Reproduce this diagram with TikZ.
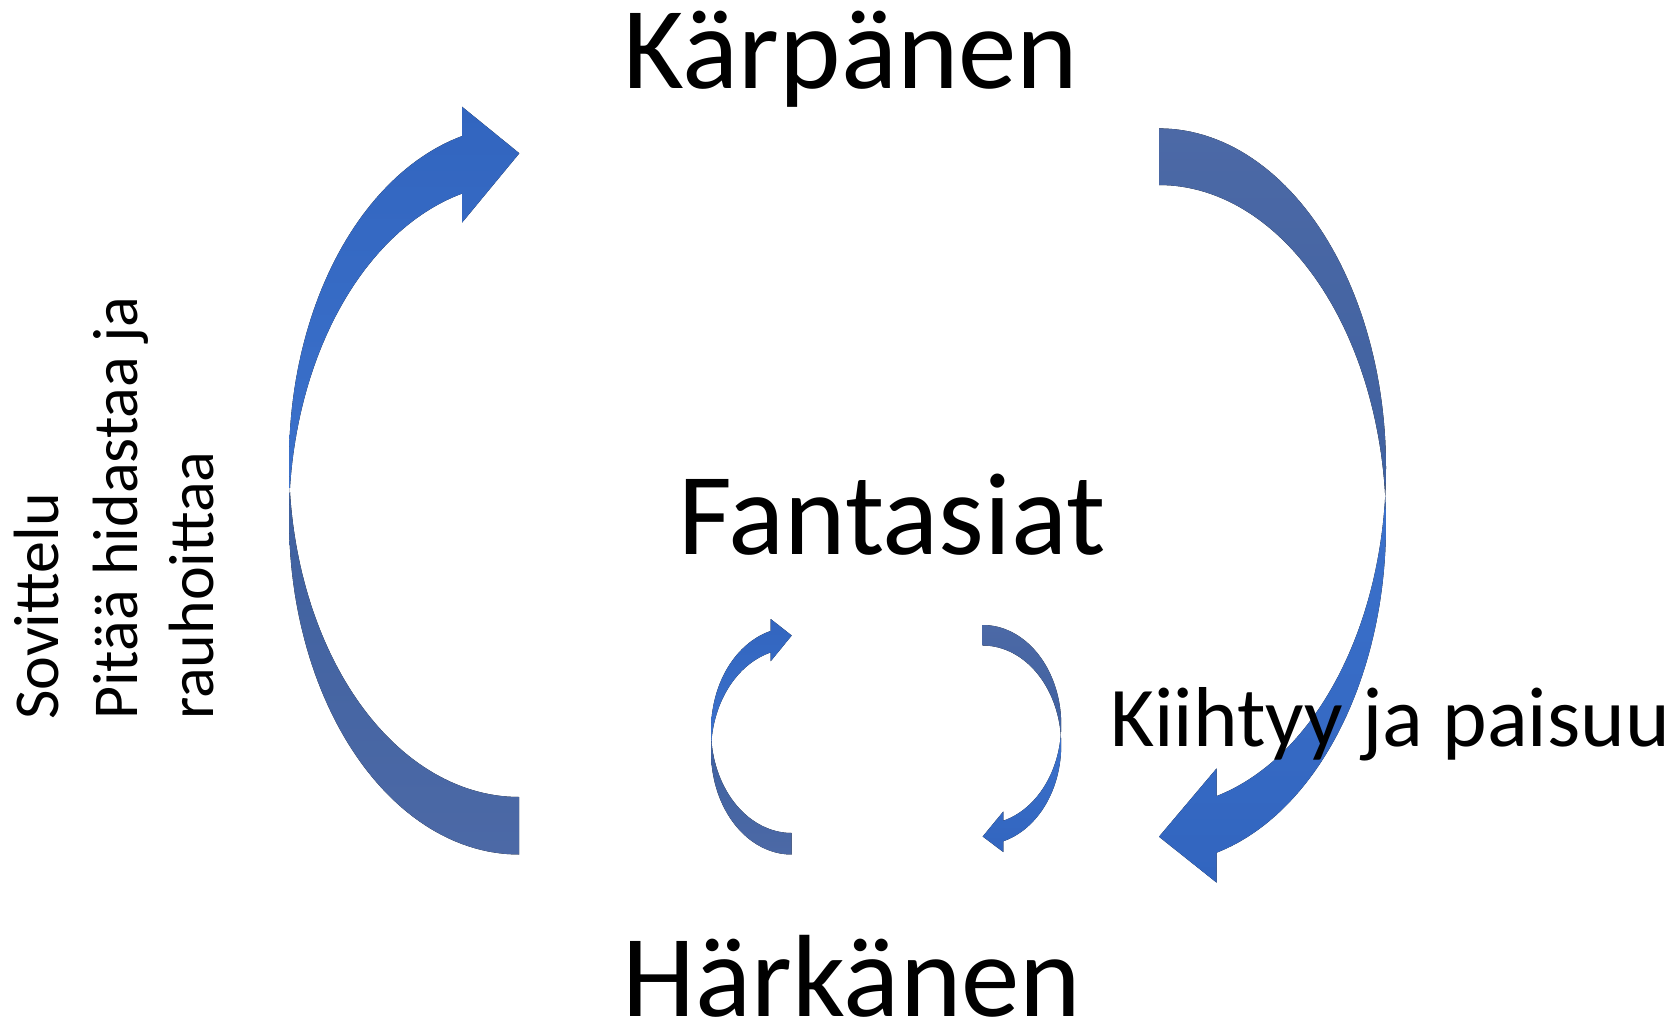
\documentclass[tikz,border=0pt]{standalone}
\usepackage{fontspec}
\setmainfont{Carlito}
\definecolor{brA}{RGB}{50,101,191}
\definecolor{brB}{RGB}{59,113,203}
\definecolor{grD}{RGB}{63,97,160}
\definecolor{grL}{RGB}{76,105,166}
\tikzset{
  lbl/.style={inner sep=0pt, text=black},
  huge/.style={lbl, font=\fontsize{117}{140}\selectfont},
  mid/.style={lbl, font=\fontsize{85}{102}\selectfont},
  side/.style={lbl, font=\fontsize{64}{77}\selectfont, rotate=90, anchor=base west},
  headpart/.style={draw=none, top color=brA, bottom color=brB},
  headpartup/.style={draw=none, top color=brB, bottom color=brA},
  tailpart/.style={draw=none, top color=grD, bottom color=grL},
  tailpartup/.style={draw=none, top color=grL, bottom color=grD},
}
\begin{document}
\begin{tikzpicture}[x=1pt,y=-1pt]
\fill[white] (0,0) rectangle (1678,1019);
\useasboundingbox (0,0) rectangle (1678,1019);

% ---------- big left arrow (up, pointing right) ----------
\fill[headpart] (462,136.1)
  -- plot[domain=255.65:175.09, samples=60] ({519+230*cos(\x)}, {461.3+335.7*sin(\x)})
  -- plot[domain=184.91:255.65, samples=60] ({519+230*cos(\x)}, {518.8+335.7*sin(\x)})
  -- (462,222.7) -- (519.3,153.3) -- (462,106.7) -- cycle;
\fill[tailpart]
  plot[domain=184.91:90, samples=60] ({519+230*cos(\x)}, {518.8+335.7*sin(\x)})
  -- plot[domain=90:175.09, samples=60] ({519+230*cos(\x)}, {461.3+335.7*sin(\x)})
  -- cycle;

% ---------- big right arrow (down, pointing left) ----------
\fill[tailpartup]
  plot[domain=270:364.783, samples=60] ({1159+227*cos(\x)}, {467.8+339.4*sin(\x)})
  -- plot[domain=-4.783:-90, samples=60] ({1159+227*cos(\x)}, {524.4+339.4*sin(\x)})
  -- cycle;
\fill[headpartup]
  plot[domain=-4.783:75.27, samples=60] ({1159+227*cos(\x)}, {524.4+339.4*sin(\x)})
  -- (1216.7,882.7) -- (1159,836.7) -- (1216.7,768.3)
  -- plot[domain=75.27:4.783, samples=60] ({1159+227*cos(\x)}, {467.8+339.4*sin(\x)})
  -- cycle;

% ---------- small left arrow ----------
\fill[headpart] (770.7,630.9)
  -- plot[domain=254.92:174.0, samples=50] ({791.7+80.7*cos(\x)}, {730.2+102.8*sin(\x)})
  -- plot[domain=186.0:254.92, samples=50] ({791.7+80.7*cos(\x)}, {751.7+102.8*sin(\x)})
  -- (770.7,661.2) -- (791.7,635.5) -- (770.7,619) -- cycle;
\fill[tailpart]
  plot[domain=186.0:90, samples=50] ({791.7+80.7*cos(\x)}, {751.7+102.8*sin(\x)})
  -- plot[domain=90:174.0, samples=50] ({791.7+80.7*cos(\x)}, {730.2+102.8*sin(\x)})
  -- cycle;

% ---------- small right arrow ----------
\fill[tailpartup]
  plot[domain=270:365.91, samples=50] ({982.7+78.5*cos(\x)}, {724.6+99.6*sin(\x)})
  -- plot[domain=-5.91:-90, samples=50] ({982.7+78.5*cos(\x)}, {745.1+99.6*sin(\x)})
  -- cycle;
\fill[headpartup]
  plot[domain=-5.91:74.79, samples=50] ({982.7+78.5*cos(\x)}, {745.1+99.6*sin(\x)})
  -- (1003.3,852) -- (982.7,836.5) -- (1003.3,811.5)
  -- plot[domain=74.79:5.91, samples=50] ({982.7+78.5*cos(\x)}, {724.6+99.6*sin(\x)})
  -- cycle;

% ---------- texts ----------
\node[huge, anchor=base] (karp) at (851,89) {Kärpänen};
\node[huge, anchor=base] (fant) at (892,554) {Fantasiat};
\node[huge, anchor=base] (hark) at (852,1016) {Härkänen};
\node[mid, anchor=base west] (kiih) at (1110,746) {Kiihtyy ja paisuu};
\node[side] (sov) at (58,720) {Sovittelu};
\node[side] (pit) at (137,720) {Pitää hidastaa ja};
\node[side] (rau) at (213,720) {rauhoittaa};
\end{tikzpicture}
\end{document}
